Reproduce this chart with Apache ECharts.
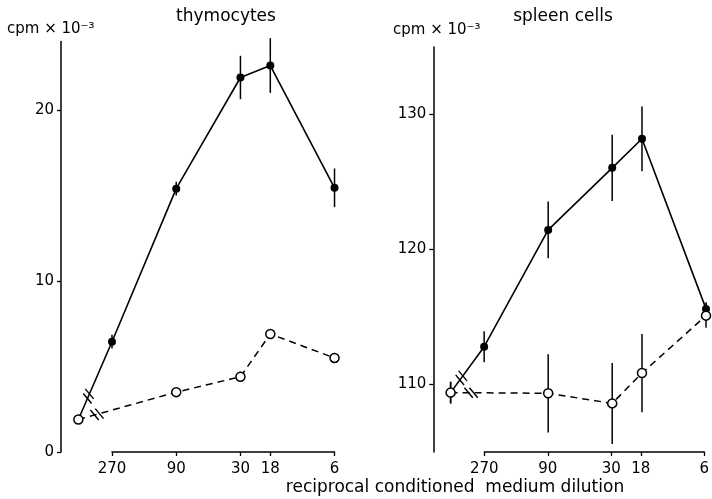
<!DOCTYPE html>
<html><head><meta charset="utf-8">
<script src="https://cdn.jsdelivr.net/npm/echarts@6/dist/echarts.min.js"></script>
<style>html,body{margin:0;padding:0;background:#fff}#c{width:712px;height:499px}</style>
</head><body><div id="c"></div>
<script>
// reciprocal conditioned medium dilution; 480 = control (no conditioned medium), placed left of the axis break
const dilutions = [480, 270, 90, 30, 18, 6];
const xTickValues = [270, 90, 30, 18, 6];

// thymocytes, cpm x 10^-3
const thymoFilled    = [1.9, 6.45, 15.4, 21.9, 22.6, 15.45];
const thymoFilledErr = [0, 0.4, 0.4, 1.27, 1.6, 1.13];
const thymoOpen      = [1.9, null, 3.5, 4.4, 6.9, 5.5];
const thymoOpenErr   = [0, 0, 0, 0.3, 0.25, 0.3];
const thymoYTicks    = [0, 10, 20];

// spleen cells, cpm x 10^-3
const spleenFilled    = [109.4, 112.8, 121.45, 126.05, 128.2, 115.6];
const spleenFilledErr = [0.8, 1.15, 2.1, 2.45, 2.4, 0.5];
const spleenOpen      = [109.4, null, 109.35, 108.6, 110.85, 115.1];
const spleenOpenErr   = [0.8, 0, 2.9, 3.0, 2.9, 0.9];
const spleenYTicks    = [110, 120, 130];

const PX_DEC = 134.6;          // pixels per decade on the dilution axis
const OFF270 = 51;             // distance from y axis to the 270 tick
const AXW = PX_DEC * Math.log10(270 / 6);
const EXT = 6;

const panels = [
  {title: 'thymocytes', titleX: 226, unitX: 7, unitY: 29, axisX: 61, yMin: 0, yMax: 24, top: 41.6, bottom: 452,
   filled: thymoFilled, filledErr: thymoFilledErr, open: thymoOpen, openErr: thymoOpenErr, yTicks: thymoYTicks,
   brk: [0.3, 0.19]},
  {title: 'spleen cells', titleX: 563, unitX: 393, unitY: 30, axisX: 433.3, yMin: 105, yMax: 135, top: 47, bottom: 452,
   filled: spleenFilled, filledErr: spleenFilledErr, open: spleenOpen, openErr: spleenOpenErr, yTicks: spleenYTicks,
   brk: [0.32, 0.21]}
];

const FONT = '"DejaVu Sans", sans-serif';
const grid = [], xAxis = [], yAxis = [], series = [], graphic = [];

function errRender(params, api) {
  const a = api.coord([api.value(0), api.value(1)]);
  const b = api.coord([api.value(0), api.value(2)]);
  return {type: 'line', shape: {x1: a[0], y1: a[1], x2: b[0], y2: b[1]},
          style: {stroke: '#000', lineWidth: 1.5}};
}

panels.forEach((p, k) => {
  const gData = grid.length;
  const dataW = OFF270 + AXW + EXT;
  grid.push({left: p.axisX, top: p.top, width: dataW, height: p.bottom - p.top});
  xAxis.push({gridIndex: gData, type: 'log', inverse: true, show: false,
              min: 6 / Math.pow(10, EXT / PX_DEC), max: 270 * Math.pow(10, OFF270 / PX_DEC)});
  yAxis.push({gridIndex: gData, type: 'value', min: p.yMin, max: p.yMax,
              axisLine: {show: true, lineStyle: {color: '#000', width: 1.5}},
              axisTick: {show: true, length: 4, customValues: p.yTicks, lineStyle: {color: '#000', width: 1.3}},
              axisLabel: {customValues: p.yTicks, color: '#000', fontSize: 15, fontFamily: FONT, margin: 7},
              splitLine: {show: false}});
  const gAx = grid.length;
  grid.push({left: p.axisX + OFF270, top: p.bottom - 10, width: AXW, height: 10});
  xAxis.push({gridIndex: gAx, type: 'log', inverse: true, min: 6, max: 270, position: 'bottom',
              axisLine: {show: true, lineStyle: {color: '#000', width: 1.5}},
              axisTick: {show: true, length: 4, customValues: xTickValues, lineStyle: {color: '#000', width: 1.3}},
              axisLabel: {customValues: xTickValues, color: '#000', fontSize: 15, fontFamily: FONT, margin: 10},
              splitLine: {show: false}, minorTick: {show: false}});
  yAxis.push({gridIndex: gAx, type: 'value', show: false});

  const xi = gData, yi = gData;
  const filledData = dilutions.map((d, i) => i === 0 ? {value: [d, p.filled[i]], symbol: 'none'} : [d, p.filled[i]]);
  const openData = dilutions.map((d, i) => [d, p.open[i]]).filter(v => v[1] !== null);
  const errData = [];
  dilutions.forEach((d, i) => {
    if (p.filledErr[i] > 0) errData.push([d, p.filled[i] - p.filledErr[i], p.filled[i] + p.filledErr[i]]);
    if (p.open[i] !== null && p.openErr[i] > 0) errData.push([d, p.open[i] - p.openErr[i], p.open[i] + p.openErr[i]]);
  });
  series.push({type: 'custom', xAxisIndex: xi, yAxisIndex: yi, renderItem: errRender, data: errData, z: 1, silent: true, clip: false});
  series.push({type: 'line', xAxisIndex: xi, yAxisIndex: yi, data: filledData, symbol: 'circle', symbolSize: 8,
               itemStyle: {color: '#000'}, lineStyle: {color: '#000', width: 1.6}, z: 2, clip: false, silent: true});
  series.push({type: 'line', xAxisIndex: xi, yAxisIndex: yi, data: openData, symbol: 'circle', symbolSize: 9,
               itemStyle: {color: '#fff', borderColor: '#000', borderWidth: 1.5},
               lineStyle: {color: '#000', width: 1.5, type: [7, 5]}, z: 3, clip: false, silent: true});

  graphic.push({type: 'text', x: p.titleX, y: 17, silent: true,
                style: {text: p.title, fill: '#000', font: '17px ' + FONT, textAlign: 'center', textVerticalAlign: 'middle', align: 'center', verticalAlign: 'middle'}});
  graphic.push({type: 'text', x: p.unitX, y: p.unitY, silent: true,
                style: {text: 'cpm × 10⁻³', fill: '#000', font: '15px ' + FONT, textAlign: 'left', textVerticalAlign: 'middle', align: 'left', verticalAlign: 'middle'}});
});

graphic.push({type: 'text', x: 455, y: 488, silent: true,
              style: {text: 'reciprocal conditioned  medium dilution', fill: '#000', font: '17px ' + FONT, textAlign: 'center', textVerticalAlign: 'middle', align: 'center', verticalAlign: 'middle'}});

const chart = echarts.init(document.getElementById('c'), null, {renderer: 'canvas'});
chart.setOption({animation: false, backgroundColor: '#fff', grid, xAxis, yAxis, series, graphic});

// axis-break marks on each line between the control point and the next point
function breakMarks(gridIndex, p0, p1, frac) {
  const a = chart.convertToPixel({gridIndex}, p0);
  const b = chart.convertToPixel({gridIndex}, p1);
  const cx = a[0] + (b[0] - a[0]) * frac, cy = a[1] + (b[1] - a[1]) * frac;
  const len = Math.hypot(b[0] - a[0], b[1] - a[1]);
  const ux = (b[0] - a[0]) / len, uy = (b[1] - a[1]) / len;
  const hx = 6.5 * 0.64, hy = 6.5 * 0.77;
  return [-2.5, 2.5].map(o => ({type: 'line', silent: true, z: 10,
    shape: {x1: cx + ux * o - hx, y1: cy + uy * o - hy, x2: cx + ux * o + hx, y2: cy + uy * o + hy},
    style: {stroke: '#000', lineWidth: 1.4}}));
}
const extra = [];
panels.forEach((p, k) => {
  const g = k * 2;
  extra.push(...breakMarks(g, [dilutions[0], p.filled[0]], [dilutions[1], p.filled[1]], p.brk[0]));
  const nxt = p.open.findIndex((v, i) => i > 0 && v !== null);
  extra.push(...breakMarks(g, [dilutions[0], p.open[0]], [dilutions[nxt], p.open[nxt]], p.brk[1]));
});
chart.setOption({graphic: graphic.concat(extra)});
</script>
</body></html>
